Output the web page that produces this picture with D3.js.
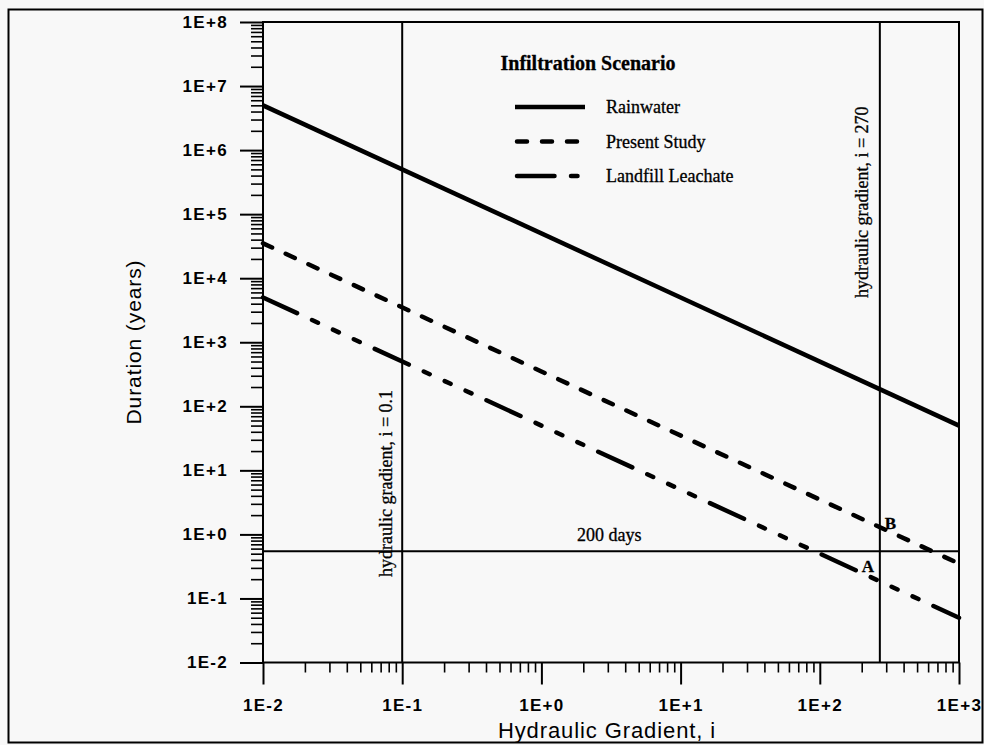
<!DOCTYPE html>
<html><head><meta charset="utf-8">
<script src="https://cdn.jsdelivr.net/npm/d3@7/dist/d3.min.js"></script>
<style>
body{margin:0;background:#f8f8f8;}
svg{display:block;}
</style>
</head><body>
<svg id="chart" width="984" height="745"></svg>
<script>
// ---------- data ----------
const gradient = [0.01, 1000];
const rainwater = [5e6, 50];
const presentStudy = [3.5e4, 0.35];
const landfillLeachate = [5e3, 0.05];
const seriesNames = ["Rainwater", "Present Study", "Landfill Leachate"];
const legendTitle = "Infiltration Scenario";

const xTickValues = [1e-2, 1e-1, 1e0, 1e1, 1e2, 1e3];
const xTickLabels = ["1E-2", "1E-1", "1E+0", "1E+1", "1E+2", "1E+3"];
const yTickValues = [1e-2, 1e-1, 1e0, 1e1, 1e2, 1e3, 1e4, 1e5, 1e6, 1e7, 1e8];
const yTickLabels = ["1E-2", "1E-1", "1E+0", "1E+1", "1E+2", "1E+3", "1E+4", "1E+5", "1E+6", "1E+7", "1E+8"];

const refGradients = [0.1, 270];
const refGradientLabels = ["hydraulic gradient, i = 0.1", "hydraulic gradient, i = 270"];
const refDuration = 200 / 365;
const refDurationLabel = "200 days";
const xTitle = "Hydraulic Gradient, i";
const yTitle = "Duration (years)";

// ---------- layout ----------
const W = 984, H = 745;
const L = 263, R = 959, T = 22, B = 662.5;

const svg = d3.select("#chart");
svg.append("rect").attr("width", W).attr("height", H).attr("fill", "#f8f8f8");
svg.append("rect").attr("x", 8.5).attr("y", 9.5).attr("width", 974).attr("height", 733)
  .attr("fill", "none").attr("stroke", "#000").attr("stroke-width", 2);

const x = d3.scaleLog().domain([1e-2, 1e3]).range([L, R]);
const y = d3.scaleLog().domain([1e-2, 1e8]).range([B, T]);

const sansFont = "'Liberation Sans', Arial, sans-serif";
const serifFont = "'Liberation Serif', 'Times New Roman', serif";

// minor tick values (2..9 of each decade)
function minorTicks(lo, hi) {
  const out = [];
  for (let e = lo; e < hi; e++) for (let k = 2; k <= 9; k++) out.push(k * Math.pow(10, e));
  return out;
}

// ---------- axes ----------
const gy = svg.append("g").attr("transform", `translate(${L},0)`)
  .call(d3.axisLeft(y).tickValues(yTickValues).tickFormat((d, i) => yTickLabels[i])
    .tickSize(23).tickPadding(12));
gy.select(".domain").remove();
gy.selectAll("line").attr("stroke", "#000").attr("stroke-width", 2);
gy.selectAll("text").attr("font-family", sansFont).attr("font-size", 17)
  .attr("font-weight", "bold").attr("letter-spacing", 1.3).attr("fill", "#000");

const gym = svg.append("g").attr("transform", `translate(${L},0)`)
  .call(d3.axisLeft(y).tickValues(minorTicks(-2, 8)).tickFormat("").tickSize(12));
gym.select(".domain").remove();
gym.selectAll("line").attr("stroke", "#000").attr("stroke-width", 1.6);

const gx = svg.append("g").attr("transform", `translate(0,${B})`)
  .call(d3.axisBottom(x).tickValues(xTickValues).tickFormat((d, i) => xTickLabels[i])
    .tickSize(22).tickPadding(14));
gx.select(".domain").remove();
gx.selectAll("line").attr("stroke", "#000").attr("stroke-width", 2);
gx.selectAll("text").attr("font-family", sansFont).attr("font-size", 17)
  .attr("font-weight", "bold").attr("letter-spacing", 1.3).attr("fill", "#000");

const gxm = svg.append("g").attr("transform", `translate(0,${B})`)
  .call(d3.axisBottom(x).tickValues(minorTicks(-2, 3)).tickFormat("").tickSize(10));
gxm.select(".domain").remove();
gxm.selectAll("line").attr("stroke", "#000").attr("stroke-width", 1.6);

// plot frame
svg.append("rect").attr("x", L).attr("y", T).attr("width", R - L).attr("height", B - T)
  .attr("fill", "none").attr("stroke", "#000").attr("stroke-width", 2);

// axis titles
svg.append("text").attr("transform", `translate(141,342) rotate(-90)`)
  .attr("text-anchor", "middle").attr("font-family", sansFont).attr("font-size", 21)
  .attr("letter-spacing", 0.9).text(yTitle);
svg.append("text").attr("x", 607).attr("y", 738)
  .attr("text-anchor", "middle").attr("font-family", sansFont).attr("font-size", 22)
  .attr("letter-spacing", 0.9).text(xTitle);

// ---------- reference lines ----------
refGradients.forEach(g => {
  svg.append("line").attr("x1", x(g)).attr("x2", x(g)).attr("y1", T).attr("y2", B)
    .attr("stroke", "#000").attr("stroke-width", 2);
});
svg.append("line").attr("x1", L).attr("x2", R).attr("y1", y(refDuration)).attr("y2", y(refDuration))
  .attr("stroke", "#000").attr("stroke-width", 2);

const serifText = sel => sel.attr("font-family", serifFont).attr("fill", "#000")
  .attr("stroke", "#000").attr("stroke-width", 0.3);

svg.append("text").attr("transform", `translate(${x(refGradients[0]) - 10},577) rotate(-90)`)
  .attr("font-size", 18).call(serifText).text(refGradientLabels[0]);
svg.append("text").attr("transform", `translate(${x(refGradients[1]) - 12},298) rotate(-90)`)
  .attr("font-size", 18).call(serifText).text(refGradientLabels[1]);
svg.append("text").attr("x", 577).attr("y", y(refDuration) - 10)
  .attr("font-size", 18).call(serifText).text(refDurationLabel);

// ---------- series ----------
const styles = [
  { w: 4.5, dash: null },
  { w: 4.5, dash: "10,15" },
  { w: 4.5, dash: "37.5,16.5,6.5,16.5,6.5,16.5,6.5,16.5" }
];
const seriesData = [rainwater, presentStudy, landfillLeachate];
const line = d3.line().x(d => x(d[0])).y(d => y(d[1]));
seriesData.forEach((vals, i) => {
  const pts = gradient.map((g, j) => [g, vals[j]]);
  svg.append("path").attr("d", line(pts)).attr("fill", "none").attr("stroke", "#000")
    .attr("stroke-width", styles[i].w)
    .attr("stroke-linecap", styles[i].dash ? "round" : "butt")
    .attr("stroke-dasharray", styles[i].dash);
});

// value of a series at gradient g (straight line in log-log space)
function at(vals, g) {
  const t = (Math.log10(g) - Math.log10(gradient[0])) / (Math.log10(gradient[1]) - Math.log10(gradient[0]));
  return Math.pow(10, Math.log10(vals[0]) + t * (Math.log10(vals[1]) - Math.log10(vals[0])));
}
const gi = refGradients[1];
svg.append("text").attr("x", x(gi) + 5).attr("y", y(at(presentStudy, gi)) + 2)
  .attr("font-size", 17).attr("font-weight", "bold").call(serifText).text("B");
svg.append("text").attr("x", x(gi) - 18).attr("y", y(at(landfillLeachate, gi)) - 9)
  .attr("font-size", 17).attr("font-weight", "bold").call(serifText).text("A");

// ---------- legend ----------
svg.append("text").attr("x", 588).attr("y", 70).attr("text-anchor", "middle")
  .attr("font-size", 20).attr("font-weight", "bold").call(serifText).text(legendTitle);
const legendY = [107, 141.5, 176];
seriesNames.forEach((name, i) => {
  svg.append("line").attr("x1", i === 0 ? 515 : 517).attr("x2", 585)
    .attr("y1", legendY[i]).attr("y2", legendY[i])
    .attr("stroke", "#000").attr("stroke-width", styles[i].w)
    .attr("stroke-linecap", styles[i].dash ? "round" : "butt")
    .attr("stroke-dasharray", styles[i].dash);
  svg.append("text").attr("x", 606).attr("y", legendY[i]).attr("dy", "0.35em")
    .attr("font-size", 18).call(serifText).text(name);
});
</script>
</body></html>
